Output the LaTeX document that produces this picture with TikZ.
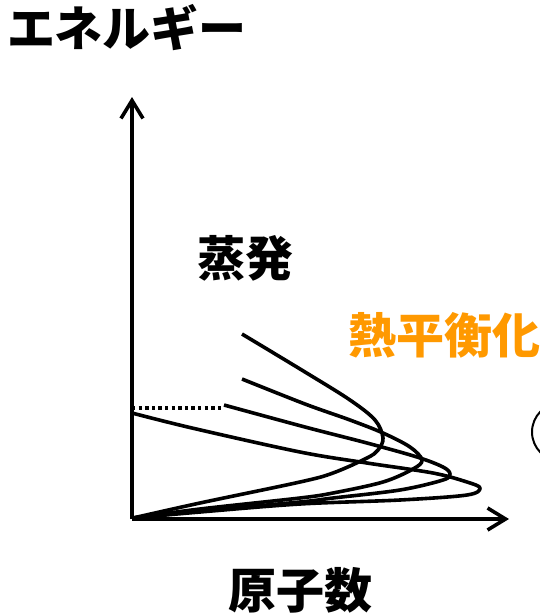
\documentclass[tikz,border=0pt]{standalone}
\usepackage{fontspec}
\newfontfamily\jp{Noto Sans CJK JP}
\usetikzlibrary{arrows.meta}
\definecolor{eqorange}{RGB}{255,153,0}
\tikzset{
  axis/.style={line width=3.8pt,-{Straight Barb[length=18pt,width=22pt,line width=3.6pt]}},
  curve/.style={line width=3.6pt,smooth,tension=0.55,line join=round},
  lbl/.style={font=\jp\bfseries\fontsize{48}{52}\selectfont,inner sep=0pt},
}
\begin{document}
\begin{tikzpicture}[x=1pt,y=-1pt]
\useasboundingbox (0,0) rectangle (540,614);
\fill[white] (0,0) rectangle (540,614);
\coordinate (O) at (132,519);
\coordinate (Ytip) at (132,97);
\coordinate (Xtip) at (509,519);
\coordinate (Dl) at (132,408);
\coordinate (Dr) at (224,408);
% curves
\draw[curve] plot coordinates {(242,334) (305,372) (350,400) (375,420) (383,438) (378,450) (367,458) (333,473) (300,482) (200,503) (133,518)};
\draw[curve] plot coordinates {(242,379) (305,404) (350,420) (383,433) (410,447) (422,460) (413,469) (383,482) (333,493) (300,498) (200,509) (133,518)};
\draw[curve] plot coordinates {(224,405) (305,427) (367,443) (417,457) (443,467) (450,474) (443,480) (400,490) (333,498) (300,502) (200,511) (133,518)};
\draw[curve] plot coordinates {(132,413) (192,428) (300,452) (367,463) (433,473) (467,482) (480,488) (467,495) (400,500) (300,504) (200,512) (133,518)};
% dotted
\draw[line width=3.4pt,dash pattern=on 3.4pt off 3.2pt] (Dl) -- (Dr);
% axes
\draw[axis] (O) -- (Ytip);
\draw[axis] (O) -- (Xtip);
% partial circle
\begin{scope}
\clip (0,0) rectangle (540,614);
\draw[line width=2pt] (561,432) circle[radius=29];
\end{scope}
% labels
\node[lbl] (energy) at (127,28) {エネルギー};
\node[lbl] (evap) at (245,258) {蒸発};
\node[lbl,text=eqorange] (therm) at (444,335) {熱平衡化};
\node[lbl] (atoms) at (300,590) {原子数};
\end{tikzpicture}
\end{document}
